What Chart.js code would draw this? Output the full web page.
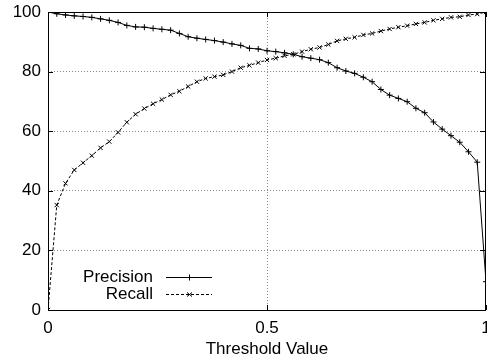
<!DOCTYPE html>
<html lang="en">
<head>
    <meta charset="UTF-8">
    <title>Precision / Recall</title>
    <script src="https://cdn.jsdelivr.net/npm/chart.js"></script>
    <style>
        html, body { margin: 0; padding: 0; background: #fff; }
        .wrap { width: 487px; height: 360px; position: relative; }
    </style>
</head>
<body>
    <div class="wrap"><canvas id="prChart"></canvas></div>

    <script>
        // threshold values (x), step 0.02
        const thresholds = [0, 0.02, 0.04, 0.06, 0.08, 0.10, 0.12, 0.14, 0.16, 0.18, 0.20,
            0.22, 0.24, 0.26, 0.28, 0.30, 0.32, 0.34, 0.36, 0.38, 0.40,
            0.42, 0.44, 0.46, 0.48, 0.50, 0.52, 0.54, 0.56, 0.58, 0.60,
            0.62, 0.64, 0.66, 0.68, 0.70, 0.72, 0.74, 0.76, 0.78, 0.80,
            0.82, 0.84, 0.86, 0.88, 0.90, 0.92, 0.94, 0.96, 0.98, 1.00];

        const precision = [100, 99.4, 99.0, 98.7, 98.5, 98.2, 97.7, 97.2, 96.5, 95.5, 95.0,
            94.9, 94.5, 94.2, 93.9, 92.8, 91.7, 91.2, 90.8, 90.4, 89.9,
            89.3, 88.8, 87.8, 87.6, 87.0, 86.7, 86.3, 85.8, 85.0, 84.5,
            84.0, 83.0, 81.3, 80.2, 79.4, 78.1, 76.6, 74.0, 72.1, 71.0,
            69.9, 67.7, 66.2, 63.1, 60.7, 58.5, 56.3, 53.1, 49.6, 9.5];

        const recall = [0, 35.2, 42.5, 47.0, 49.4, 51.8, 54.4, 56.5, 59.6, 63.0, 65.7,
            67.6, 69.2, 70.6, 72.2, 73.4, 75.0, 76.6, 77.7, 78.3, 78.9,
            80.0, 81.3, 82.1, 83.0, 83.9, 84.5, 85.3, 85.8, 86.7, 87.5,
            88.1, 89.1, 90.3, 91.0, 91.5, 92.3, 92.8, 93.6, 94.3, 94.9,
            95.4, 96.0, 96.5, 97.2, 97.7, 98.2, 98.4, 99.0, 99.3, 100];

        const yTicks = [0, 20, 40, 60, 80, 100];
        const xTicks = [0, 0.5, 1];
        const seriesNames = ['Precision', 'Recall'];
        const xTitle = 'Threshold Value';

        const FONT = 'Liberation Sans, Arial, sans-serif';
        const FSIZE = 17;
        const noPad = () => ({ left: 0, right: 0, top: 0, bottom: 0 });

        // frame, inward tick marks and gnuplot-like key
        const gnuFrame = {
            id: 'gnuFrame',
            afterDatasetsDraw(chart) {
                const { ctx, chartArea: a, scales } = chart;
                ctx.save();
                ctx.strokeStyle = '#000';
                ctx.lineWidth = 1;
                ctx.setLineDash([]);
                ctx.strokeRect(Math.round(a.left) + 0.5, Math.round(a.top) + 0.5,
                    Math.round(a.right - a.left) - 1, Math.round(a.bottom - a.top));
                ctx.beginPath();
                yTicks.forEach(v => {
                    const y = Math.round(scales.y.getPixelForValue(v)) + 0.5;
                    ctx.moveTo(a.left, y); ctx.lineTo(a.left + 5, y);
                    ctx.moveTo(a.right - 1, y); ctx.lineTo(a.right - 6, y);
                });
                xTicks.forEach(v => {
                    const x = Math.round(scales.x.getPixelForValue(v)) + 0.5;
                    ctx.moveTo(x, a.bottom); ctx.lineTo(x, a.bottom - 5);
                    ctx.moveTo(x, a.top); ctx.lineTo(x, a.top + 5);
                });
                ctx.stroke();

                // key
                ctx.font = FSIZE + 'px ' + FONT;
                ctx.fillStyle = '#000';
                ctx.textAlign = 'right';
                ctx.textBaseline = 'middle';
                chart.data.datasets.forEach((ds, i) => {
                    const y = 277 + i * 17;
                    ctx.fillText(ds.label, 153, y);
                    ctx.beginPath();
                    ctx.setLineDash(ds.borderDash || []);
                    ctx.moveTo(166, y + 0.5); ctx.lineTo(212, y + 0.5);
                    ctx.stroke();
                    ctx.setLineDash([]);
                    ctx.beginPath();
                    if (ds.pointStyle === 'cross') {
                        ctx.moveTo(186, y + 0.5); ctx.lineTo(192, y + 0.5);
                        ctx.moveTo(189.5, y - 2.5); ctx.lineTo(189.5, y + 3.5);
                    } else {
                        ctx.moveTo(187, y - 1.5); ctx.lineTo(192, y + 2.5);
                        ctx.moveTo(192, y - 1.5); ctx.lineTo(187, y + 2.5);
                    }
                    ctx.stroke();
                });
                ctx.restore();
            }
        };

        const ctx = document.getElementById('prChart').getContext('2d');
        const prChart = new Chart(ctx, {
            type: 'line',
            data: {
                datasets: [
                    {
                        label: seriesNames[0],
                        data: thresholds.map((t, i) => ({ x: t, y: precision[i] })),
                        borderColor: '#000',
                        backgroundColor: '#000',
                        borderWidth: 1,
                        pointStyle: 'cross',
                        pointRadius: 3,
                        pointBorderWidth: 1,
                        tension: 0
                    },
                    {
                        label: seriesNames[1],
                        data: thresholds.map((t, i) => ({ x: t, y: recall[i] })),
                        borderColor: '#000',
                        backgroundColor: '#000',
                        borderWidth: 1,
                        borderDash: [3, 2],
                        pointStyle: 'crossRot',
                        pointRadius: 3,
                        pointBorderWidth: 1,
                        tension: 0
                    }
                ]
            },
            options: {
                responsive: true,
                maintainAspectRatio: false,
                animation: false,
                layout: { autoPadding: false, padding: { top: 12, right: 1, left: 0, bottom: 0 } },
                plugins: {
                    legend: { display: false },
                    tooltip: { enabled: false }
                },
                scales: {
                    x: {
                        type: 'linear',
                        min: 0,
                        max: 1,
                        afterBuildTicks: s => { s.ticks = xTicks.map(v => ({ value: v })); },
                        afterFit: s => {
                            s.height = 50;
                            s.paddingLeft = 0; s.paddingRight = 0;
                            s.getPadding = noPad;
                        },
                        border: { display: false, dash: [1, 2] },
                        grid: {
                            drawTicks: false,
                            color: c => (c.tick && (c.tick.value === 0 || c.tick.value === 1)) ? 'rgba(0,0,0,0)' : '#888'
                        },
                        ticks: {
                            color: '#000',
                            font: { family: FONT, size: FSIZE },
                            padding: 8,
                            maxRotation: 0,
                            callback: v => String(v)
                        },
                        title: {
                            display: true,
                            text: xTitle,
                            color: '#000',
                            font: { family: FONT, size: FSIZE },
                            padding: { top: 0, bottom: 0 }
                        }
                    },
                    y: {
                        min: 0,
                        max: 100,
                        afterBuildTicks: s => { s.ticks = yTicks.map(v => ({ value: v })); },
                        afterFit: s => {
                            s.width = 48;
                            s.paddingTop = 0; s.paddingBottom = 0;
                            s.getPadding = noPad;
                        },
                        border: { display: false, dash: [1, 2] },
                        grid: {
                            drawTicks: false,
                            color: c => (c.tick && (c.tick.value === 0 || c.tick.value === 100)) ? 'rgba(0,0,0,0)' : '#888'
                        },
                        ticks: {
                            color: '#000',
                            font: { family: FONT, size: FSIZE },
                            padding: 7
                        }
                    }
                }
            },
            plugins: [gnuFrame]
        });
    </script>
</body>
</html>
